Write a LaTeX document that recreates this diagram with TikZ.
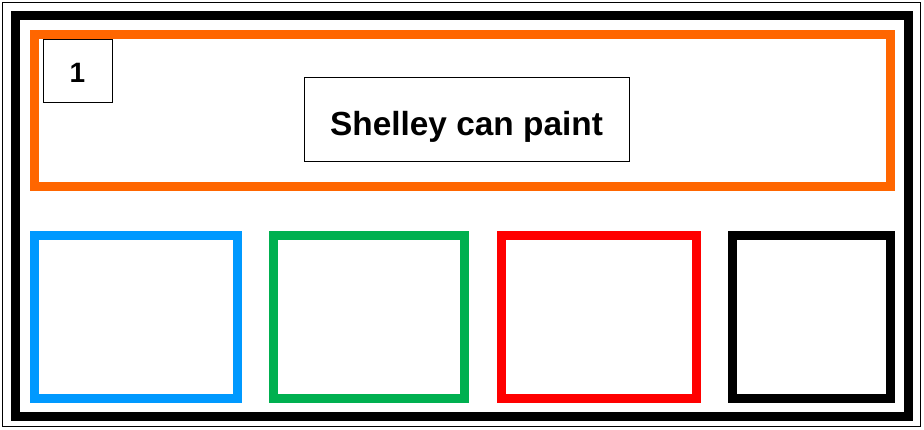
\documentclass[tikz,border=0pt]{standalone}
\usepackage{fontspec}
\setmainfont{Liberation Sans}
\usepackage{xcolor}
\usepackage{tikz}
\usetikzlibrary{positioning}

\definecolor{frameorange}{RGB}{255,102,0}
\definecolor{paintblue}{RGB}{0,153,255}
\definecolor{paintgreen}{RGB}{0,176,80}
\definecolor{paintred}{RGB}{255,0,0}

\begin{document}
\begin{tikzpicture}[x=1pt, y=-1pt,
    thick frame/.style={line width=9pt},
    label box/.style={draw, line width=0.8pt, font=\bfseries, inner sep=0pt}]
    \useasboundingbox (0,0) rectangle (924,429);
    \fill[color=white] (0,0) rectangle (924,429);
    \draw[line width=1pt] (2.5,2.5) rectangle (920.5,426.5);
    \draw[thick frame] (15.5,15.5) rectangle (908.5,416.5);
    \draw[thick frame, color=frameorange] (34.5,34) rectangle (890.5,186);
    \node[label box, minimum width=69pt, minimum height=63pt,
        font=\bfseries\fontsize{28}{30}\selectfont, text height=23pt, text depth=0pt]
        (number) at (77.5,70.5) {1};
    \node[label box, minimum width=325pt, minimum height=84pt,
        font=\bfseries\fontsize{33.4}{38}\selectfont, text height=33.4pt, text depth=0pt]
        (sentence) at (466.5,119) {Shelley can paint};
    \draw[thick frame, color=paintblue] (34.5,235.5) rectangle (237.5,398.5);
    \draw[thick frame, color=paintgreen] (273.5,235.5) rectangle (464.5,398.5);
    \draw[thick frame, color=paintred] (501.5,235.5) rectangle (696.5,398.5);
    \draw[thick frame] (732.5,235.5) rectangle (890.5,398.5);
\end{tikzpicture}
\end{document}
